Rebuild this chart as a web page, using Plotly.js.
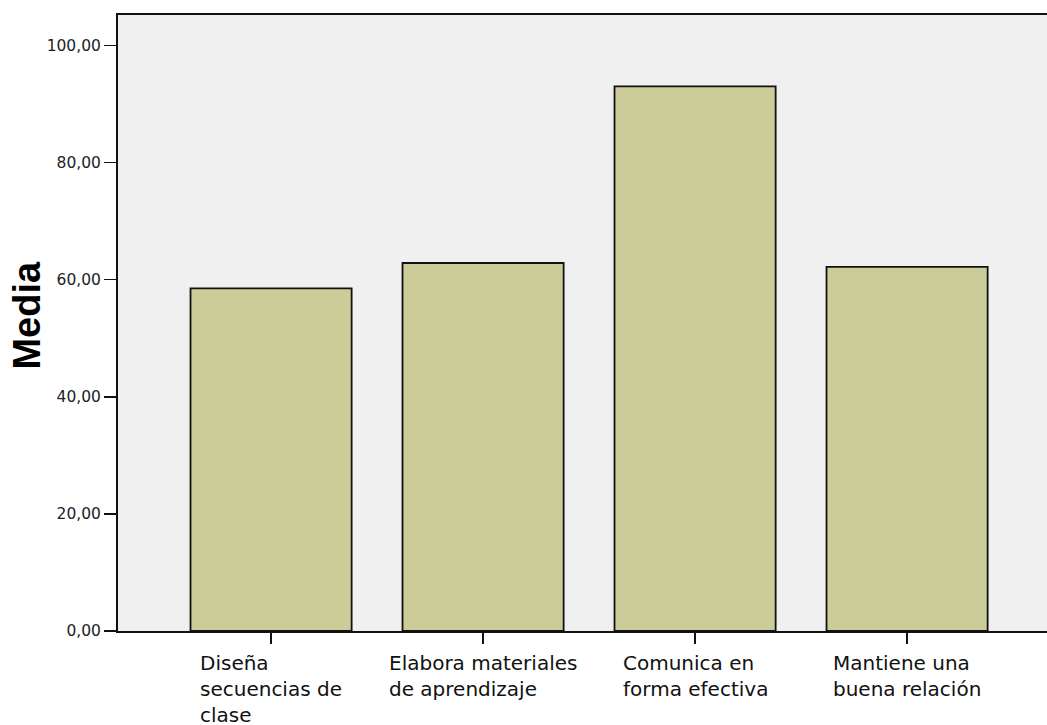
<!DOCTYPE html>
<html>
<head>
<meta charset="utf-8">
<script src="https://cdn.plot.ly/plotly-3.0.1.min.js"></script>
<style>html,body{margin:0;padding:0;background:#fff;}</style>
</head>
<body>
<div id="chart" style="width:1047px;height:725px;"></div>
<script>
var categories = ["Diseña<br>secuencias de<br>clase", "Elabora materiales<br>de aprendizaje", "Comunica en<br>forma efectiva", "Mantiene una<br>buena relación"];
var means = [58.5, 62.85, 93.0, 62.2];
var yTicks = [0, 20, 40, 60, 80, 100];
var yTitle = 'Media';

var positions = categories.map(function(c, i){ return i; });

var trace = {
  type: 'bar',
  x: positions,
  y: means,
  width: 0.76,
  marker: {color: '#cccc99', line: {color: '#111', width: 1.8}},
  hoverinfo: 'skip'
};

var annotations = categories.map(function(c, i){
  return {
    x: i, xref: 'x', y: 0, yref: 'paper',
    xanchor: 'center', yanchor: 'top', yshift: -18,
    text: c, align: 'left', showarrow: false,
    font: {family: 'DejaVu Sans, sans-serif', size: 20, color: '#111'}
  };
});
annotations.push({
  x: 0, xref: 'paper', xshift: -91, y: 0.512, yref: 'paper',
  xanchor: 'center', yanchor: 'middle', textangle: -90,
  text: '<b>' + yTitle + '</b>', showarrow: false,
  font: {family: 'Liberation Sans, Arial, sans-serif', size: 38, color: '#000'}
});

var layout = {
  width: 1047, height: 725,
  margin: {l: 118, r: 0, t: 15, b: 94, pad: 0},
  paper_bgcolor: '#ffffff',
  plot_bgcolor: '#f0f0f0',
  separators: ',.',
  showlegend: false,
  font: {family: 'DejaVu Sans, sans-serif', color: '#111'},
  xaxis: {
    range: [-0.722, 3.66],
    tickvals: positions,
    showticklabels: false,
    ticks: 'outside', ticklen: 11, tickwidth: 1.6, tickcolor: '#111',
    showline: true, linecolor: '#111', linewidth: 2,
    mirror: true,
    showgrid: false, zeroline: false, fixedrange: true
  },
  yaxis: {
    range: [0, 105.2],
    tickvals: yTicks,
    tickformat: '.2f',
    ticks: 'outside', ticklen: 12, tickwidth: 1.6, tickcolor: '#111',
    tickfont: {family: 'DejaVu Sans, sans-serif', size: 15.5, color: '#222'},
    showline: true, linecolor: '#111', linewidth: 2,
    showgrid: false, zeroline: false, fixedrange: true
  },
  annotations: annotations
};

Plotly.newPlot('chart', [trace], layout, {staticPlot: true, displayModeBar: false});
</script>
</body>
</html>
